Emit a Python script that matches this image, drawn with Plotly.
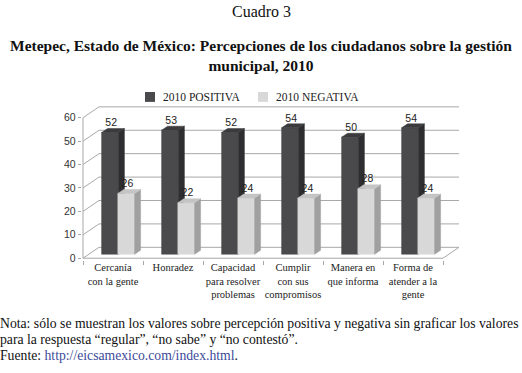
import plotly.graph_objects as go

# ---------------- data ----------------
categories = ["Cercanía<br>con la gente", "Honradez", "Capacidad<br>para resolver<br>problemas",
              "Cumplir<br>con sus<br>compromisos", "Manera en<br>que informa", "Forma de<br>atender a la<br>gente"]
positiva = [52, 53, 52, 54, 50, 54]
negativa = [26, 22, 24, 24, 28, 24]
series_names = ["2010 POSITIVA", "2010 NEGATIVA"]
y_ticks = [0, 10, 20, 30, 40, 50, 60]

# ---------------- styling / geometry ----------------
W, H = 522, 373
PXX = 60.0                  # px per category unit
PXY = 142.0 / 60.0          # px per value unit
WDX, WDY = 16 / PXX, 11 / PXY     # wall depth
BDX, BDY = 6 / PXX, 4 / PXY       # bar depth
B0 = 4 / PXY                      # bar base raised (bars sit mid-depth)
SERIF = "Liberation Serif"
SANS = "Liberation Sans"


def px(xp):
    return xp / W


def py(yp):
    return (H - yp) / H


series = [
    dict(name=series_names[0], vals=positiva, off=-0.19, front="#4a4a4c", side="#2e2e30", top="#3b3b3d"),
    dict(name=series_names[1], vals=negativa, off=0.08, front="#d8d8d8", side="#a0a0a0", top="#c4c4c4"),
]
BW = 0.28

xr = [-0.52, 5.8]
yr = [-0.6, 65.3]
x_left_px = 83 + (xr[0] + 0.5) * PXX
x_right_px = 83 + (xr[1] + 0.5) * PXX
y_bot_px = 261 - yr[0] * PXY
y_top_px = 261 - yr[1] * PXY

fig = go.Figure()

# back wall grid + left wall diagonals
gx, gy = [], []
for t in y_ticks:
    gx += [-0.5, -0.5 + WDX, 5.5 + WDX, None]
    gy += [t, t + WDY, t + WDY, None]
fig.add_trace(go.Scatter(x=gx, y=gy, mode="lines", line=dict(color="#a8a8a8", width=1),
                         hoverinfo="skip", showlegend=False))
# floor edges and front axis
fx = [-0.5, 5.5, 5.5 + WDX, None, -0.5, -0.5]
fy = [0, 0, WDY, None, 0, y_ticks[-1]]
fig.add_trace(go.Scatter(x=fx, y=fy, mode="lines", line=dict(color="#a8a8a8", width=1),
                         hoverinfo="skip", showlegend=False))


def poly_trace(xs, ys, color, name=None, legend=False):
    return go.Scatter(x=xs, y=ys, mode="lines", fill="toself", fillcolor=color,
                      line=dict(color=color, width=0.5), hoverinfo="skip",
                      showlegend=legend, name=name)


for s in series:
    frx, fry, sdx, sdy, tpx, tpy = [], [], [], [], [], []
    for i, v in enumerate(s["vals"]):
        x0 = i + s["off"]
        x1 = x0 + BW
        top = B0 + v
        frx += [x0, x1, x1, x0, x0, None]
        fry += [B0, B0, top, top, B0, None]
        sdx += [x1, x1 + BDX, x1 + BDX, x1, x1, None]
        sdy += [B0, B0 + BDY, top + BDY, top, B0, None]
        tpx += [x0, x1, x1 + BDX, x0 + BDX, x0, None]
        tpy += [top, top, top + BDY, top + BDY, top, None]
    fig.add_trace(poly_trace(frx, fry, s["front"], s["name"]))
    fig.add_trace(poly_trace(sdx, sdy, s["side"]))
    fig.add_trace(poly_trace(tpx, tpy, s["top"]))

# data labels
for s in series:
    xs = [i + s["off"] + BW / 2 + 0.02 for i in range(len(categories))]
    ys = [B0 + v + 9 / PXY for v in s["vals"]]
    fig.add_trace(go.Scatter(x=xs, y=ys, mode="text", text=[str(v) for v in s["vals"]],
                             textfont=dict(family=SANS, size=10.5, color="#222222"),
                             hoverinfo="skip", showlegend=False, cliponaxis=False))

fig.update_layout(
    width=W, height=H,
    margin=dict(l=0, r=0, t=0, b=0),
    paper_bgcolor="white", plot_bgcolor="rgba(0,0,0,0)",
    showlegend=False,
    xaxis=dict(domain=[px(x_left_px), px(x_right_px)], range=xr,
               tickmode="array", tickvals=list(range(len(categories))), ticktext=categories,
               ticks="", showgrid=False, zeroline=False, showline=False,
               tickfont=dict(family=SERIF, size=10.5, color="#222222"),
               minor=dict(tickmode="array", tickvals=[i - 0.5 for i in range(len(categories) + 1)],
                          ticks="outside", ticklen=4, tickcolor="#a8a8a8", showgrid=False)),
    yaxis=dict(domain=[py(y_bot_px), py(y_top_px)], range=yr,
               tickmode="array", tickvals=y_ticks, ticks="outside", ticklen=3, tickcolor="#a8a8a8",
               showgrid=False, zeroline=False, showline=False,
               tickfont=dict(family=SANS, size=10.5, color="#333333")),
)

# manual legend
leg = [(145, series[0]), (258, series[1])]
for xp, s in leg:
    fig.add_shape(type="rect", xref="paper", yref="paper",
                  x0=px(xp), x1=px(xp + 10), y0=py(103), y1=py(93),
                  fillcolor=s["front"], line=dict(width=0))
    fig.add_annotation(xref="paper", yref="paper", x=px(xp + 16), y=py(98),
                       xanchor="left", yanchor="middle", showarrow=False, text=s["name"],
                       font=dict(family=SERIF, size=11.5, color="#222222"))

# titles
fig.add_annotation(xref="paper", yref="paper", x=px(261), y=py(12), xanchor="center", yanchor="middle",
                   showarrow=False, text="Cuadro 3", font=dict(family=SERIF, size=16, color="#111111"))
fig.add_annotation(xref="paper", yref="paper", x=px(261), y=py(56), xanchor="center", yanchor="middle",
                   showarrow=False,
                   text="<b>Metepec, Estado de México: Percepciones de los ciudadanos sobre la gestión<br>municipal, 2010</b>",
                   font=dict(family=SERIF, size=15.5, color="#111111"))

# notes
notes = [
    "Nota: sólo se muestran los valores sobre percepción positiva y negativa sin graficar los valores",
    "para la respuesta “regular”, “no sabe” y “no contestó”.",
    "Fuente: <span style='color:#3b4a9a'>http://eicsamexico.com/index.html</span>.",
]
for k, line in enumerate(notes):
    fig.add_annotation(xref="paper", yref="paper", x=px(-2), y=py(327 + 16 * k),
                       xanchor="left", yanchor="middle", showarrow=False, text=line,
                       font=dict(family=SERIF, size=13.7, color="#111111"))

fig.write_html("out.html", config={"displayModeBar": False},
               post_script="document.body.style.margin='0px';document.body.style.overflow='hidden';")
